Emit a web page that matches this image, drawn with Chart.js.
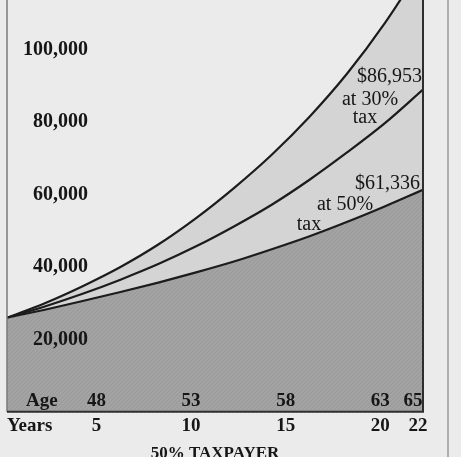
<!DOCTYPE html>
<html>
<head>
<meta charset="utf-8">
<script src="https://cdn.jsdelivr.net/npm/chart.js@4.4.0/dist/chart.umd.min.js"></script>
<style>
  html, body { margin: 0; padding: 0; background: #ebebeb; overflow: hidden; }
  canvas { display: block; }
</style>
</head>
<body>
<canvas id="chart" width="461" height="466"></canvas>
<script>
// values (dollars by year)
const years = [0, 2, 4, 6, 8, 10, 12, 14, 16, 18, 20, 22];
const deferred = [26000, 30000, 34700, 40000, 46200, 53500, 61800, 71000, 81500, 93500, 107500, 123500];
const tax30 = [26000, 29100, 32600, 36500, 40800, 45700, 51200, 57200, 64100, 71700, 79800, 89000];
const tax50 = [26000, 28200, 30600, 33100, 35700, 38500, 41500, 44900, 48500, 52500, 56800, 61336];

const yearTicks = [5, 10, 15, 20, 22];
const ageTicks = [48, 53, 58, 63, 65];
const valueTicks = [20000, 40000, 60000, 80000, 100000];

const ink = '#161616';
const serif = '"Liberation Serif", "Times New Roman", serif';

// halftone-ish texture for the dark band
const tile = document.createElement('canvas');
tile.width = 4;
tile.height = 4;
const tctx = tile.getContext('2d');
tctx.fillStyle = '#a3a3a3';
tctx.fillRect(0, 0, 4, 4);
tctx.strokeStyle = 'rgba(0,0,0,0.06)';
tctx.lineWidth = 1;
tctx.beginPath();
tctx.moveTo(0, 4);
tctx.lineTo(4, 0);
tctx.stroke();
const ctx0 = document.getElementById('chart').getContext('2d');
const darkFill = ctx0.createPattern(tile, 'repeat');

const points = (vals) => years.map((yr, i) => ({x: yr, y: vals[i]}));

const frame = {
    id: 'frame',
    beforeDraw(chart) {
        const {ctx, height} = chart;
        ctx.save();
        ctx.strokeStyle = '#9a9a9a';
        ctx.lineWidth = 1.5;
        ctx.beginPath();
        ctx.moveTo(448, 0);
        ctx.lineTo(448, height);
        ctx.stroke();
        ctx.restore();
    },
    afterDatasetsDraw(chart) {
        const {ctx, chartArea: a, scales: {x, y}} = chart;
        ctx.save();
        // plot border
        ctx.strokeStyle = '#7a7a7a';
        ctx.lineWidth = 1.5;
        ctx.beginPath();
        ctx.moveTo(a.left, 0);
        ctx.lineTo(a.left, a.bottom);
        ctx.stroke();
        ctx.strokeStyle = '#2e2e2e';
        ctx.lineWidth = 2;
        ctx.beginPath();
        ctx.moveTo(a.left, a.bottom);
        ctx.lineTo(a.right, a.bottom);
        ctx.lineTo(a.right, 0);
        ctx.stroke();

        ctx.fillStyle = ink;
        ctx.textBaseline = 'middle';

        // value labels sit inside the plot
        ctx.font = 'bold 20px ' + serif;
        ctx.textAlign = 'right';
        valueTicks.forEach(v => {
            ctx.fillText(v.toLocaleString('en-US'), a.left + 81, y.getPixelForValue(v));
        });

        // age row
        ctx.font = 'bold 19px ' + serif;
        ctx.textAlign = 'center';
        ageTicks.forEach((age, i) => {
            const shift = i === ageTicks.length - 1 ? -10 : -5;
            ctx.fillText(String(age), x.getPixelForValue(yearTicks[i]) + shift, a.bottom - 11);
        });
        ctx.textAlign = 'left';
        ctx.fillText('Age', a.left + 19, a.bottom - 11);
        ctx.fillText('Years', a.left, a.bottom + 14);

        // end-of-line notes
        const endX = x.getPixelForValue(years[years.length - 1]);
        const end30 = y.getPixelForValue(tax30[tax30.length - 1]);
        const end50 = y.getPixelForValue(tax50[tax50.length - 1]);
        ctx.font = '20px ' + serif;
        ctx.textAlign = 'right';
        ctx.fillText('$86,953', endX - 1, end30 - 13);
        ctx.fillText('$61,336', endX - 3, end50 - 6);
        ctx.textAlign = 'center';
        ctx.fillText('at 30%', endX - 53, end30 + 10);
        ctx.fillText('tax', endX - 58, end30 + 28);
        ctx.fillText('at 50%', endX - 78, end50 + 15);
        ctx.fillText('tax', endX - 114, end50 + 35);
        ctx.restore();
    }
};

const lineStyle = {
    borderColor: '#1c1c1c',
    borderWidth: 2.2,
    pointRadius: 0,
    cubicInterpolationMode: 'monotone'
};

new Chart(ctx0, {
    type: 'line',
    data: {
        datasets: [
            {...lineStyle, label: '50% tax', data: points(tax50), fill: 'origin', backgroundColor: darkFill},
            {...lineStyle, label: '30% tax', data: points(tax30), fill: false},
            {...lineStyle, label: 'tax deferred', data: points(deferred), fill: 'origin', backgroundColor: '#d4d4d4'}
        ]
    },
    options: {
        responsive: false,
        animation: false,
        devicePixelRatio: 1,
        layout: {
            padding: {left: 7, right: 38, top: 0, bottom: 0}
        },
        scales: {
            x: {
                type: 'linear',
                min: 0,
                max: 22,
                grid: {display: false, drawTicks: false},
                border: {display: false},
                afterBuildTicks: (scale) => {
                    scale.ticks = yearTicks.map(v => ({value: v}));
                },
                ticks: {
                    autoSkip: false,
                    maxRotation: 0,
                    padding: 3,
                    labelOffset: -5,
                    color: ink,
                    font: {family: serif, size: 19, weight: 'bold'},
                    callback: (v) => String(v)
                },
                title: {
                    display: true,
                    text: '50% TAXPAYER',
                    color: ink,
                    font: {family: serif, size: 17, weight: 'bold'},
                    padding: {top: 3, bottom: 2}
                }
            },
            y: {
                display: false,
                min: 0,
                max: 113750
            }
        },
        plugins: {
            legend: {display: false},
            tooltip: {enabled: false}
        }
    },
    plugins: [frame]
});
</script>
</body>
</html>
